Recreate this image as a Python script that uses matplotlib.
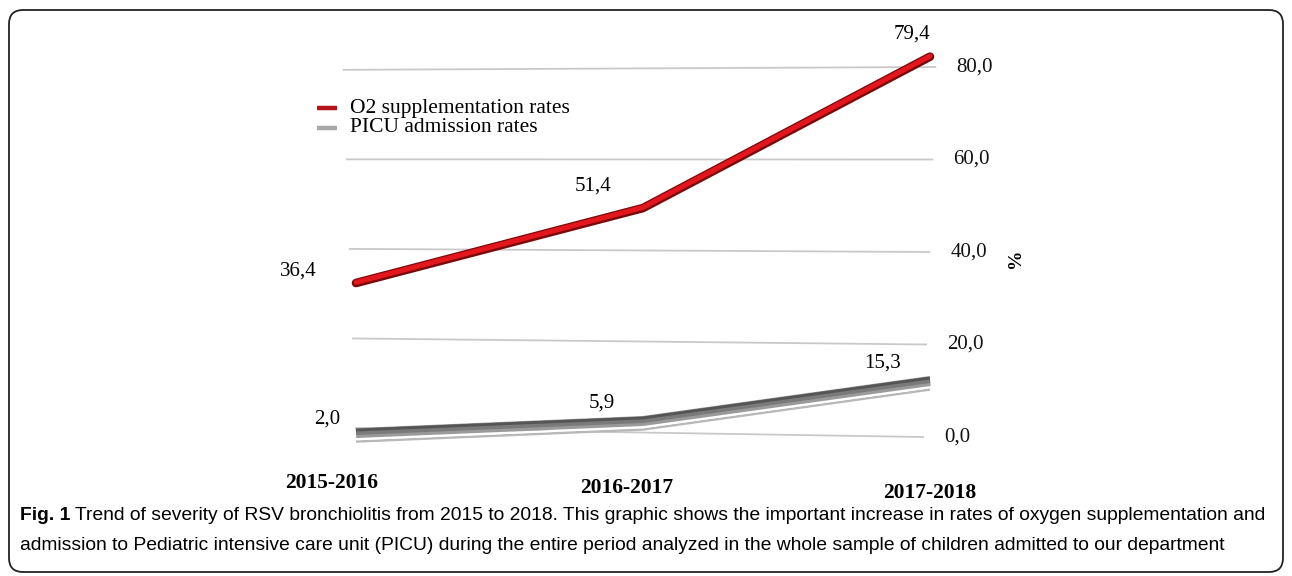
import matplotlib

matplotlib.use("Agg")
import matplotlib.pyplot as plt
import matplotlib.transforms as mtransforms
import numpy as np
from matplotlib.lines import Line2D
from matplotlib.patches import FancyBboxPatch

SEASONS = ["2015-2016", "2016-2017", "2017-2018"]
O2_RATES = [36.4, 51.4, 79.4]
PICU_RATES = [2.0, 5.9, 15.3]
O2_LABELS = ["36,4", "51,4", "79,4"]
PICU_LABELS = ["2,0", "5,9", "15,3"]
Y_TICKS = [0, 20, 40, 60, 80]
Y_TICK_LABELS = ["0,0", "20,0", "40,0", "60,0", "80,0"]
SERIES_NAMES = ["O2 supplementation rates", "PICU admission rates"]

CAPTION_BOLD = "Fig. 1"
CAPTION_1 = ("Trend of severity of RSV bronchiolitis from 2015 to 2018. This graphic shows "
             "the important increase in rates of oxygen supplementation and")
CAPTION_2 = ("admission to Pediatric intensive care unit (PICU) during the entire period "
             "analyzed in the whole sample of children admitted to our department")

# figure size in pixels (dpi 100)
W, H = 1292, 576

# pixel layout of the chart plane
X0_PX, X_STEP_PX = 356, 287     # category 0 and spacing between categories
Y0_PX, Y_UNIT_PX = 437, 4.625   # 0 % on the right wall, pixels per %

# 3D look of the original: depth scale/shift per category for the ribbons,
# and for the back wall with its gridlines
RIBBON_NODES = [0, 1, 2]
RIBBON_SCALE = [0.943, 1.012, 1.094]
RIBBON_SHIFT = [-1.03, -2.51, -4.63]
WALL_NODES = [0, 1.976]
WALL_SCALE = [0.968, 1.0]
WALL_SHIFT = [1.95, 0.0]
WALL_LEAN = [-0.00053, 0.00053]

SERIF = ["Liberation Serif", "DejaVu Serif"]
NARROW = ["Liberation Sans Narrow", "Liberation Sans", "DejaVu Sans"]
CAPTION_SIZE = 13.9

RED = "#e3161d"
RED_DARK = "#7a0a0a"


class Depth(mtransforms.Transform):
    """Fake perspective: value axis scaled and shifted along the category axis."""

    input_dims = 2
    output_dims = 2

    def __init__(self, nodes, scale, shift, lean=None):
        super().__init__()
        self.nodes = nodes
        self.scale = scale
        self.shift = shift
        self.lean = lean if lean is not None else [0.0] * len(nodes)

    def transform_non_affine(self, values):
        values = np.asarray(values, dtype=float)
        u, v = values[:, 0], values[:, 1]
        s = np.interp(u, self.nodes, self.scale)
        c = np.interp(u, self.nodes, self.shift)
        lean = np.interp(u, self.nodes, self.lean)
        return np.column_stack([u + lean * v, v * s + c])


def px(x, y):
    return x / W, 1 - y / H


fig = plt.figure(figsize=(W / 100, H / 100), dpi=100)
ax = fig.add_axes([0, 0, 1, 1])
ax.set_xlim(-X0_PX / X_STEP_PX, (W - X0_PX) / X_STEP_PX)
ax.set_ylim((Y0_PX - H) / Y_UNIT_PX, Y0_PX / Y_UNIT_PX)
ax.axis("off")

ribbon = Depth(RIBBON_NODES, RIBBON_SCALE, RIBBON_SHIFT) + ax.transData
wall = Depth(WALL_NODES, WALL_SCALE, WALL_SHIFT, WALL_LEAN) + ax.transData


def shifted(trans, dy):
    return mtransforms.offset_copy(trans, fig=fig, x=0, y=dy, units="dots")


# back wall gridlines and tick labels
for tick, label in zip(Y_TICKS, Y_TICK_LABELS):
    ax.plot([WALL_NODES[0], WALL_NODES[-1]], [tick, tick], color="#c9c9c9",
            lw=1.3, transform=wall, zorder=1)
    ax.text(2.05, tick, label, transform=wall, ha="left", va="center",
            fontsize=15, family=SERIF, color="#111111")

ax.text(*px(1016, 258), "%", transform=fig.transFigure, rotation=90,
        ha="center", va="center", fontsize=14, family=SERIF, weight="bold")

x = np.arange(len(SEASONS))

# PICU ribbon: graded band, white highlight, pale lower edge
flat = dict(solid_capstyle="butt", solid_joinstyle="miter")
ax.plot(x, PICU_RATES, color="#b8b8b8", lw=1.8, transform=shifted(ribbon, -8.5),
        zorder=2, **flat)
ax.plot(x, PICU_RATES, color="white", lw=1.5, transform=shifted(ribbon, -6.3),
        zorder=3, **flat)
ax.plot(x, PICU_RATES, color="#9a9a9a", lw=7.2, transform=ribbon, zorder=4, **flat)
ax.plot(x, PICU_RATES, color="#7a7a7a", lw=4.5, transform=shifted(ribbon, 1.2),
        zorder=5, **flat)
ax.plot(x, PICU_RATES, color="#555555", lw=2.0, transform=shifted(ribbon, 3.0),
        zorder=5, **flat)

# O2 tube
ax.plot(x, O2_RATES, color=RED_DARK, lw=6.2, transform=ribbon,
        solid_capstyle="round", solid_joinstyle="round", zorder=6)
ax.plot(x, O2_RATES, color=RED, lw=3.6, transform=shifted(ribbon, 0.6),
        solid_capstyle="round", solid_joinstyle="round", zorder=7)

# value labels, offsets in pixels from the drawn point
O2_OFFSETS = [(-58, 12), (-50, 22), (-18, 23)]
PICU_OFFSETS = [(-29, 14), (-41, 18), (-47, 18)]
for i in range(len(SEASONS)):
    ax.annotate(O2_LABELS[i], (x[i], O2_RATES[i]), xycoords=ribbon,
                xytext=O2_OFFSETS[i], textcoords="offset pixels",
                ha="center", va="center", fontsize=15, family=SERIF)
    ax.annotate(PICU_LABELS[i], (x[i], PICU_RATES[i]), xycoords=ribbon,
                xytext=PICU_OFFSETS[i], textcoords="offset pixels",
                ha="center", va="center", fontsize=15, family=SERIF)

# category labels sit lower towards the front
CAT_LABEL_XY = [(332, 483), (627, 488), (930, 493)]
for season, (lx, ly) in zip(SEASONS, CAT_LABEL_XY):
    fig.text(*px(lx, ly), season, ha="center", va="center", fontsize=15.5,
             family=SERIF, weight="bold")

# legend
LEGEND_Y = [108, 128]
for name, color, ly in zip(SERIES_NAMES, ["#b5121b", "#a8a8a8"], LEGEND_Y):
    fig.add_artist(Line2D([317 / W, 337 / W], [1 - ly / H] * 2, color=color,
                          lw=3.2, solid_capstyle="butt"))
    fig.text(*px(350, ly), name, ha="left", va="center", fontsize=15.5,
             family=SERIF)

# caption and frame
bold = fig.text(*px(20, 515), CAPTION_BOLD, ha="left", va="center",
                fontsize=CAPTION_SIZE, family=NARROW, weight="bold")
bold_end = bold.get_window_extent(fig.canvas.get_renderer()).x1
fig.text(bold_end / W + 5 / W, 1 - 515 / H, CAPTION_1, ha="left", va="center",
         fontsize=CAPTION_SIZE, family=NARROW)
fig.text(*px(20, 545), CAPTION_2, ha="left", va="center",
         fontsize=CAPTION_SIZE, family=NARROW)

frame = FancyBboxPatch((9, H - 572), W - 18, 562,
                       boxstyle="round,pad=0,rounding_size=14",
                       transform=mtransforms.IdentityTransform(),
                       facecolor="none", edgecolor="#222222", lw=1.3)
fig.add_artist(frame)

fig.savefig("out.png", dpi=100)
